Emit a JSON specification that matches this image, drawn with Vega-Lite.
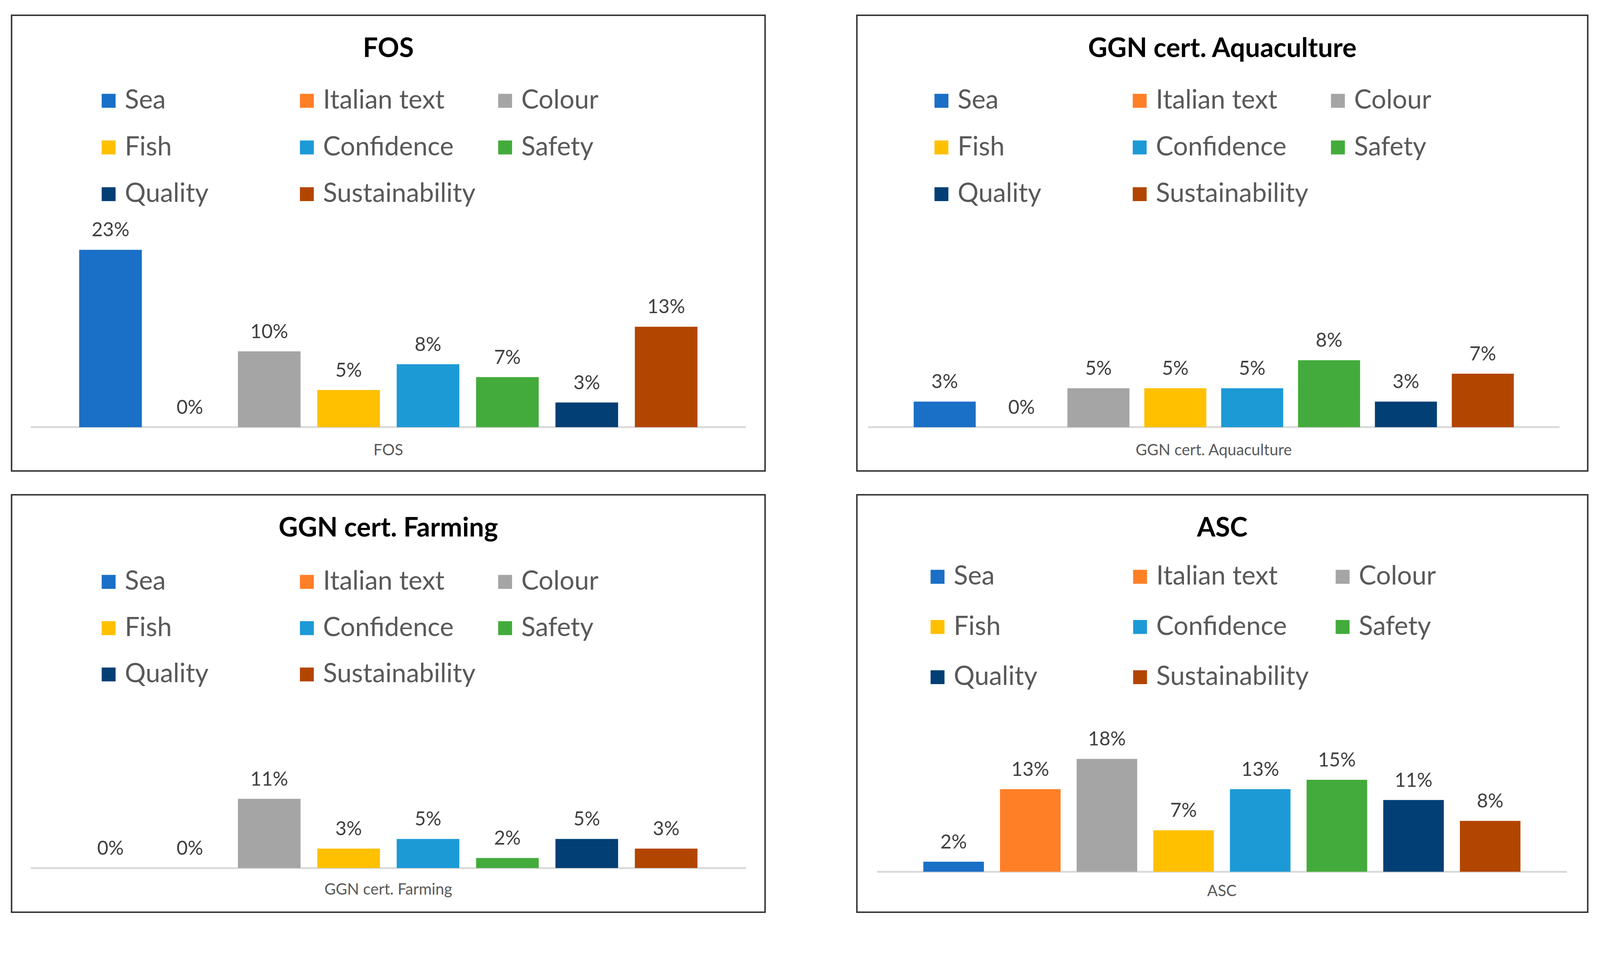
{
  "$schema": "https://vega.github.io/schema/vega-lite/v6.json",
  "background": "white",
  "padding": {"left": 27.6, "top": 37.1, "right": 0, "bottom": 0},
  "datasets": {
    "d": [
      {"panel": "FOS", "attr": "Sea", "value": 0.234},
      {"panel": "FOS", "attr": "Italian text", "value": 0},
      {"panel": "FOS", "attr": "Colour", "value": 0.1},
      {"panel": "FOS", "attr": "Fish", "value": 0.049},
      {"panel": "FOS", "attr": "Confidence", "value": 0.083},
      {"panel": "FOS", "attr": "Safety", "value": 0.066},
      {"panel": "FOS", "attr": "Quality", "value": 0.0325},
      {"panel": "FOS", "attr": "Sustainability", "value": 0.1325},
      {"panel": "GGN cert. Aquaculture", "attr": "Sea", "value": 0.0315},
      {"panel": "GGN cert. Aquaculture", "attr": "Italian text", "value": 0},
      {"panel": "GGN cert. Aquaculture", "attr": "Colour", "value": 0.048},
      {"panel": "GGN cert. Aquaculture", "attr": "Fish", "value": 0.048},
      {"panel": "GGN cert. Aquaculture", "attr": "Confidence", "value": 0.048},
      {"panel": "GGN cert. Aquaculture", "attr": "Safety", "value": 0.0826},
      {"panel": "GGN cert. Aquaculture", "attr": "Quality", "value": 0.0315},
      {"panel": "GGN cert. Aquaculture", "attr": "Sustainability", "value": 0.066},
      {"panel": "GGN cert. Farming", "attr": "Sea", "value": 0},
      {"panel": "GGN cert. Farming", "attr": "Italian text", "value": 0},
      {"panel": "GGN cert. Farming", "attr": "Colour", "value": 0.1126},
      {"panel": "GGN cert. Farming", "attr": "Fish", "value": 0.0316},
      {"panel": "GGN cert. Farming", "attr": "Confidence", "value": 0.0474},
      {"panel": "GGN cert. Farming", "attr": "Safety", "value": 0.0163},
      {"panel": "GGN cert. Farming", "attr": "Quality", "value": 0.0474},
      {"panel": "GGN cert. Farming", "attr": "Sustainability", "value": 0.0316},
      {"panel": "ASC", "attr": "Sea", "value": 0.016},
      {"panel": "ASC", "attr": "Italian text", "value": 0.1314},
      {"panel": "ASC", "attr": "Colour", "value": 0.1796},
      {"panel": "ASC", "attr": "Fish", "value": 0.066},
      {"panel": "ASC", "attr": "Confidence", "value": 0.1314},
      {"panel": "ASC", "attr": "Safety", "value": 0.1464},
      {"panel": "ASC", "attr": "Quality", "value": 0.1141},
      {"panel": "ASC", "attr": "Sustainability", "value": 0.0809}
    ]
  },
  "data": {"name": "d"},
  "spacing": 57,
  "resolve": {"scale": {"x": "independent", "y": "independent", "xOffset": "independent", "color": "independent"}, "legend": {"color": "independent"}},
  "vconcat": [
    {
      "spacing": 231,
      "resolve": {"scale": {"x": "independent", "y": "independent", "xOffset": "independent", "color": "independent"}, "legend": {"color": "independent"}},
      "hconcat": [
        {
          "width": 1929, "height": 1167,
          "title": {"text": "FOS", "offset": -121},
          "transform": [{"filter": "datum.panel === 'FOS'"}],
          "layer": [
            {"transform": [{"aggregate": [{"op": "count", "as": "n"}], "groupby": ["panel"]}],
             "mark": {"type": "rule", "color": "#d9d9d9", "strokeWidth": 4.75},
             "encoding": {
               "x": {"field": "panel", "type": "nominal", "bandPosition": 0, "scale": {"paddingInner": 0, "paddingOuter": 0.0267, "align": 0.5}, "axis": null},
               "x2": {"field": "panel", "bandPosition": 1},
               "y": {"datum": 0, "type": "quantitative", "scale": {"domain": [-0.05776, 0.5433], "nice": false, "zero": false}, "axis": null}}},
            {"transform": [{"aggregate": [{"op": "count", "as": "n"}], "groupby": ["panel"]}],
             "mark": {"type": "text", "font": "Lato", "fontSize": 40, "color": "#595959", "baseline": "alphabetic", "dy": 72.5},
             "encoding": {
               "x": {"field": "panel", "type": "nominal", "scale": {"paddingInner": 0, "paddingOuter": 0.0267, "align": 0.5}, "axis": null},
               "y": {"datum": 0, "type": "quantitative", "scale": {"domain": [-0.05776, 0.5433], "nice": false, "zero": false}, "axis": null},
               "text": {"field": "panel"}}},
            {"mark": {"type": "bar"},
             "encoding": {
               "x": {"field": "panel", "type": "nominal", "scale": {"paddingInner": 0, "paddingOuter": 0.0267, "align": 0.5}, "axis": null},
               "xOffset": {"field": "attr", "type": "nominal", "scale": {"domain": ["Sea", "Italian text", "Colour", "Fish", "Confidence", "Safety", "Quality", "Sustainability"], "paddingInner": 0.211, "paddingOuter": 0.611}},
               "y": {"field": "value", "type": "quantitative", "scale": {"domain": [-0.05776, 0.5433], "nice": false, "zero": false}, "axis": null},
               "y2": {"datum": 0},
               "color": {"field": "attr", "type": "nominal",
                         "scale": {"domain": ["Sea", "Italian text", "Colour", "Fish", "Confidence", "Safety", "Quality", "Sustainability"], "range": ["#1A6FC6", "#FF7F27", "#A5A5A5", "#FFC000", "#1C9AD6", "#43AB3B", "#023F75", "#B24500"]},
                         "legend": {"title": null, "orient": "none", "direction": "horizontal", "legendX": 215, "legendY": 185.3, "columns": 3, "gridAlign": "all", "columnPadding": 41.5, "rowPadding": 51.7, "symbolType": "square", "symbolSize": 1265, "symbolStrokeWidth": 0, "labelFont": "Lato", "labelFontSize": 67, "labelColor": "#595959", "labelOffset": 8, "labelLimit": 1000, "padding": 0}}}},
            {"mark": {"type": "text", "font": "Lato", "fontSize": 49.4, "color": "#404040", "baseline": "alphabetic", "dy": -34.2},
             "encoding": {
               "x": {"field": "panel", "type": "nominal", "scale": {"paddingInner": 0, "paddingOuter": 0.0267, "align": 0.5}, "axis": null},
               "xOffset": {"field": "attr", "type": "nominal", "scale": {"domain": ["Sea", "Italian text", "Colour", "Fish", "Confidence", "Safety", "Quality", "Sustainability"], "paddingInner": 0.211, "paddingOuter": 0.611}},
               "y": {"field": "value", "type": "quantitative", "scale": {"domain": [-0.05776, 0.5433], "nice": false, "zero": false}, "axis": null},
               "text": {"field": "value", "type": "quantitative", "format": ".0%"}}}
          ]
        },
        {
          "width": 1871, "height": 1167,
          "title": {"text": "GGN cert. Aquaculture", "offset": -121},
          "transform": [{"filter": "datum.panel === 'GGN cert. Aquaculture'"}],
          "layer": [
            {"transform": [{"aggregate": [{"op": "count", "as": "n"}], "groupby": ["panel"]}],
             "mark": {"type": "rule", "color": "#d9d9d9", "strokeWidth": 4.75},
             "encoding": {
               "x": {"field": "panel", "type": "nominal", "bandPosition": 0, "scale": {"paddingInner": 0, "paddingOuter": 0.0285, "align": 0.283}, "axis": null},
               "x2": {"field": "panel", "bandPosition": 1},
               "y": {"datum": 0, "type": "quantitative", "scale": {"domain": [-0.054, 0.508], "nice": false, "zero": false}, "axis": null}}},
            {"transform": [{"aggregate": [{"op": "count", "as": "n"}], "groupby": ["panel"]}],
             "mark": {"type": "text", "font": "Lato", "fontSize": 40, "color": "#595959", "baseline": "alphabetic", "dy": 72.5},
             "encoding": {
               "x": {"field": "panel", "type": "nominal", "scale": {"paddingInner": 0, "paddingOuter": 0.0285, "align": 0.283}, "axis": null},
               "y": {"datum": 0, "type": "quantitative", "scale": {"domain": [-0.054, 0.508], "nice": false, "zero": false}, "axis": null},
               "text": {"field": "panel"}}},
            {"mark": {"type": "bar"},
             "encoding": {
               "x": {"field": "panel", "type": "nominal", "scale": {"paddingInner": 0, "paddingOuter": 0.0285, "align": 0.283}, "axis": null},
               "xOffset": {"field": "attr", "type": "nominal", "scale": {"domain": ["Sea", "Italian text", "Colour", "Fish", "Confidence", "Safety", "Quality", "Sustainability"], "paddingInner": 0.193, "paddingOuter": 0.594}},
               "y": {"field": "value", "type": "quantitative", "scale": {"domain": [-0.054, 0.508], "nice": false, "zero": false}, "axis": null},
               "y2": {"datum": 0},
               "color": {"field": "attr", "type": "nominal",
                         "scale": {"domain": ["Sea", "Italian text", "Colour", "Fish", "Confidence", "Safety", "Quality", "Sustainability"], "range": ["#1A6FC6", "#FF7F27", "#A5A5A5", "#FFC000", "#1C9AD6", "#43AB3B", "#023F75", "#B24500"]},
                         "legend": {"title": null, "orient": "none", "direction": "horizontal", "legendX": 183, "legendY": 185.3, "columns": 3, "gridAlign": "all", "columnPadding": 41.5, "rowPadding": 51.7, "symbolType": "square", "symbolSize": 1265, "symbolStrokeWidth": 0, "labelFont": "Lato", "labelFontSize": 67, "labelColor": "#595959", "labelOffset": 8, "labelLimit": 1000, "padding": 0}}}},
            {"mark": {"type": "text", "font": "Lato", "fontSize": 49.4, "color": "#404040", "baseline": "alphabetic", "dy": -34.2},
             "encoding": {
               "x": {"field": "panel", "type": "nominal", "scale": {"paddingInner": 0, "paddingOuter": 0.0285, "align": 0.283}, "axis": null},
               "xOffset": {"field": "attr", "type": "nominal", "scale": {"domain": ["Sea", "Italian text", "Colour", "Fish", "Confidence", "Safety", "Quality", "Sustainability"], "paddingInner": 0.193, "paddingOuter": 0.594}},
               "y": {"field": "value", "type": "quantitative", "scale": {"domain": [-0.054, 0.508], "nice": false, "zero": false}, "axis": null},
               "text": {"field": "value", "type": "quantitative", "format": ".0%"}}}
          ]
        }
      ]
    },
    {
      "spacing": 231,
      "resolve": {"scale": {"x": "independent", "y": "independent", "xOffset": "independent", "color": "independent"}, "legend": {"color": "independent"}},
      "hconcat": [
        {
          "width": 1929, "height": 1069,
          "title": {"text": "GGN cert. Farming", "offset": -121},
          "transform": [{"filter": "datum.panel === 'GGN cert. Farming'"}],
          "layer": [
            {"transform": [{"aggregate": [{"op": "count", "as": "n"}], "groupby": ["panel"]}],
             "mark": {"type": "rule", "color": "#d9d9d9", "strokeWidth": 4.75},
             "encoding": {
               "x": {"field": "panel", "type": "nominal", "bandPosition": 0, "scale": {"paddingInner": 0, "paddingOuter": 0.0267, "align": 0.5}, "axis": null},
               "x2": {"field": "panel", "bandPosition": 1},
               "y": {"datum": 0, "type": "quantitative", "scale": {"domain": [-0.07186, 0.6075], "nice": false, "zero": false}, "axis": null}}},
            {"transform": [{"aggregate": [{"op": "count", "as": "n"}], "groupby": ["panel"]}],
             "mark": {"type": "text", "font": "Lato", "fontSize": 40, "color": "#595959", "baseline": "alphabetic", "dy": 67.5},
             "encoding": {
               "x": {"field": "panel", "type": "nominal", "scale": {"paddingInner": 0, "paddingOuter": 0.0267, "align": 0.5}, "axis": null},
               "y": {"datum": 0, "type": "quantitative", "scale": {"domain": [-0.07186, 0.6075], "nice": false, "zero": false}, "axis": null},
               "text": {"field": "panel"}}},
            {"mark": {"type": "bar"},
             "encoding": {
               "x": {"field": "panel", "type": "nominal", "scale": {"paddingInner": 0, "paddingOuter": 0.0267, "align": 0.5}, "axis": null},
               "xOffset": {"field": "attr", "type": "nominal", "scale": {"domain": ["Sea", "Italian text", "Colour", "Fish", "Confidence", "Safety", "Quality", "Sustainability"], "paddingInner": 0.211, "paddingOuter": 0.611}},
               "y": {"field": "value", "type": "quantitative", "scale": {"domain": [-0.07186, 0.6075], "nice": false, "zero": false}, "axis": null},
               "y2": {"datum": 0},
               "color": {"field": "attr", "type": "nominal",
                         "scale": {"domain": ["Sea", "Italian text", "Colour", "Fish", "Confidence", "Safety", "Quality", "Sustainability"], "range": ["#1A6FC6", "#FF7F27", "#A5A5A5", "#FFC000", "#1C9AD6", "#43AB3B", "#023F75", "#B24500"]},
                         "legend": {"title": null, "orient": "none", "direction": "horizontal", "legendX": 215, "legendY": 189.3, "columns": 3, "gridAlign": "all", "columnPadding": 41.5, "rowPadding": 50.7, "symbolType": "square", "symbolSize": 1265, "symbolStrokeWidth": 0, "labelFont": "Lato", "labelFontSize": 67, "labelColor": "#595959", "labelOffset": 8, "labelLimit": 1000, "padding": 0}}}},
            {"mark": {"type": "text", "font": "Lato", "fontSize": 49.4, "color": "#404040", "baseline": "alphabetic", "dy": -34.2},
             "encoding": {
               "x": {"field": "panel", "type": "nominal", "scale": {"paddingInner": 0, "paddingOuter": 0.0267, "align": 0.5}, "axis": null},
               "xOffset": {"field": "attr", "type": "nominal", "scale": {"domain": ["Sea", "Italian text", "Colour", "Fish", "Confidence", "Safety", "Quality", "Sustainability"], "paddingInner": 0.211, "paddingOuter": 0.611}},
               "y": {"field": "value", "type": "quantitative", "scale": {"domain": [-0.07186, 0.6075], "nice": false, "zero": false}, "axis": null},
               "text": {"field": "value", "type": "quantitative", "format": ".0%"}}}
          ]
        },
        {
          "width": 1871, "height": 1069,
          "title": {"text": "ASC", "offset": -121},
          "transform": [{"filter": "datum.panel === 'ASC'"}],
          "layer": [
            {"transform": [{"aggregate": [{"op": "count", "as": "n"}], "groupby": ["panel"]}],
             "mark": {"type": "rule", "color": "#d9d9d9", "strokeWidth": 4.75},
             "encoding": {
               "x": {"field": "panel", "type": "nominal", "bandPosition": 0, "scale": {"paddingInner": 0, "paddingOuter": 0.0296, "align": 0.49}, "axis": null},
               "x2": {"field": "panel", "bandPosition": 1},
               "y": {"datum": 0, "type": "quantitative", "scale": {"domain": [-0.06435, 0.5998], "nice": false, "zero": false}, "axis": null}}},
            {"transform": [{"aggregate": [{"op": "count", "as": "n"}], "groupby": ["panel"]}],
             "mark": {"type": "text", "font": "Lato", "fontSize": 40, "color": "#595959", "baseline": "alphabetic", "dy": 62},
             "encoding": {
               "x": {"field": "panel", "type": "nominal", "scale": {"paddingInner": 0, "paddingOuter": 0.0296, "align": 0.49}, "axis": null},
               "y": {"datum": 0, "type": "quantitative", "scale": {"domain": [-0.06435, 0.5998], "nice": false, "zero": false}, "axis": null},
               "text": {"field": "panel"}}},
            {"mark": {"type": "bar"},
             "encoding": {
               "x": {"field": "panel", "type": "nominal", "scale": {"paddingInner": 0, "paddingOuter": 0.0296, "align": 0.49}, "axis": null},
               "xOffset": {"field": "attr", "type": "nominal", "scale": {"domain": ["Sea", "Italian text", "Colour", "Fish", "Confidence", "Safety", "Quality", "Sustainability"], "paddingInner": 0.21, "paddingOuter": 0.606}},
               "y": {"field": "value", "type": "quantitative", "scale": {"domain": [-0.06435, 0.5998], "nice": false, "zero": false}, "axis": null},
               "y2": {"datum": 0},
               "color": {"field": "attr", "type": "nominal",
                         "scale": {"domain": ["Sea", "Italian text", "Colour", "Fish", "Confidence", "Safety", "Quality", "Sustainability"], "range": ["#1A6FC6", "#FF7F27", "#A5A5A5", "#FFC000", "#1C9AD6", "#43AB3B", "#023F75", "#B24500"]},
                         "legend": {"title": null, "orient": "none", "direction": "horizontal", "legendX": 173, "legendY": 176.3, "columns": 3, "gridAlign": "all", "columnPadding": 52.5, "rowPadding": 60.7, "symbolType": "square", "symbolSize": 1265, "symbolStrokeWidth": 0, "labelFont": "Lato", "labelFontSize": 67, "labelColor": "#595959", "labelOffset": 8, "labelLimit": 1000, "padding": 0}}}},
            {"mark": {"type": "text", "font": "Lato", "fontSize": 49.4, "color": "#404040", "baseline": "alphabetic", "dy": -34.2},
             "encoding": {
               "x": {"field": "panel", "type": "nominal", "scale": {"paddingInner": 0, "paddingOuter": 0.0296, "align": 0.49}, "axis": null},
               "xOffset": {"field": "attr", "type": "nominal", "scale": {"domain": ["Sea", "Italian text", "Colour", "Fish", "Confidence", "Safety", "Quality", "Sustainability"], "paddingInner": 0.21, "paddingOuter": 0.606}},
               "y": {"field": "value", "type": "quantitative", "scale": {"domain": [-0.06435, 0.5998], "nice": false, "zero": false}, "axis": null},
               "text": {"field": "value", "type": "quantitative", "format": ".0%"}}}
          ]
        }
      ]
    }
  ],
  "config": {
    "font": "Lato",
    "view": {"stroke": "#333333", "strokeWidth": 3.8},
    "title": {"font": "Lato", "fontSize": 68, "fontWeight": "bold", "color": "#000000", "anchor": "middle", "baseline": "middle"}
  }
}
